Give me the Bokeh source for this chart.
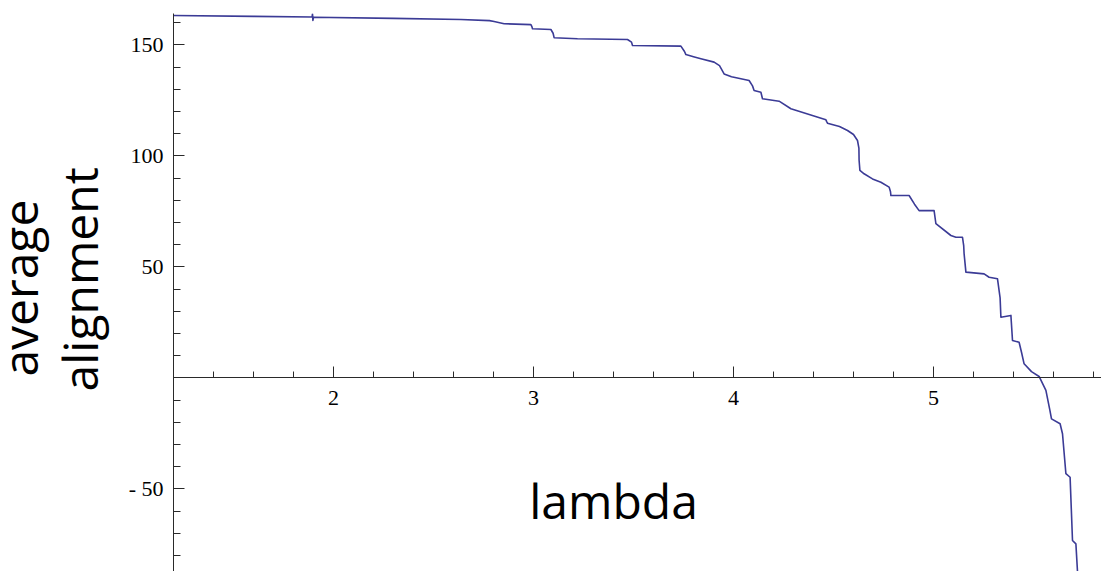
import math
from bokeh.plotting import figure
from bokeh.models import FixedTicker, Label, Range1d, ColumnDataSource
from bokeh.layouts import row
from bokeh.embed import file_html
from bokeh.resources import INLINE

# ---- data ----
lam = [1.200, 1.600, 1.893, 1.895, 1.897, 1.900, 2.300, 2.637, 2.780, 2.803, 2.853,
       2.987, 2.992, 2.995, 3.087, 3.098, 3.103, 3.220, 3.470, 3.490, 3.495, 3.737,
       3.755, 3.762, 3.800, 3.837, 3.903, 3.930, 3.953, 3.990, 4.037, 4.078, 4.095,
       4.103, 4.137, 4.145, 4.228, 4.287, 4.462, 4.466, 4.470, 4.530, 4.570, 4.600,
       4.620, 4.627, 4.628, 4.632, 4.653, 4.695, 4.737, 4.778, 4.785, 4.787, 4.878,
       4.905, 4.928, 5.003, 5.012, 5.087, 5.112, 5.145, 5.151, 5.153, 5.162, 5.253,
       5.278, 5.320, 5.333, 5.337, 5.387, 5.395, 5.428, 5.440, 5.453, 5.490, 5.528,
       5.562, 5.582, 5.590, 5.633, 5.645, 5.662, 5.683, 5.695, 5.712, 5.720]
alignment = [163.2, 162.8, 162.5, 163.9, 161.0, 162.4, 161.9, 161.4, 160.9, 160.5, 159.5,
             159.1, 158.2, 157.2, 156.9, 155.2, 153.2, 152.7, 152.4, 151.2, 149.7, 149.4,
             147.0, 145.6, 144.6, 143.7, 142.2, 140.6, 136.9, 135.6, 134.7, 133.9, 131.5,
             129.4, 128.6, 125.7, 124.6, 121.2, 116.2, 115.4, 114.7, 113.2, 111.4, 109.6,
             106.9, 103.5, 98.0, 93.4, 91.9, 89.6, 88.1, 85.9, 83.8, 82.1, 82.1,
             78.2, 75.3, 75.3, 69.4, 64.1, 63.3, 63.3, 59.5, 55.9, 47.6, 46.8,
             45.3, 44.6, 36.0, 27.3, 28.1, 16.8, 16.0, 11.5, 6.3, 2.8, 0.6,
             -5.7, -14.7, -18.5, -20.7, -25.2, -43.2, -44.8, -73.3, -74.8, -87.3]

x_major_ticks = [2, 3, 4, 5]
x_minor_ticks = [1.2, 1.4, 1.6, 1.8, 2.0, 2.2, 2.4, 2.6, 2.8, 3.0, 3.2, 3.4, 3.6,
                 3.8, 4.0, 4.2, 4.4, 4.6, 4.8, 5.0, 5.2, 5.4, 5.6, 5.8]
y_major_ticks = [-50, 0, 50, 100, 150]
y_minor_ticks = [-80, -70, -60, -50, -40, -30, -20, -10, 0, 10, 20, 30, 40, 50,
                 60, 70, 80, 90, 100, 110, 120, 130, 140, 150, 160]
y_tick_labels = {-50: "- 50", 0: "", 50: "50", 100: "100", 150: "150"}

x_title = "lambda"
y_title_lines = ["average", "alignment"]

title_font = "Open Sans"
title_size = "48px"

# ---- left strip holding the rotated y title ----
LEFT_W = 120
t = figure(width=LEFT_W, height=571, x_range=Range1d(0, LEFT_W), y_range=Range1d(0, 571),
           output_backend="svg", toolbar_location=None,
           x_axis_location=None, y_axis_location=None,
           min_border_left=0, min_border_right=0, min_border_top=0, min_border_bottom=0)
t.outline_line_color = None
t.grid.visible = False
t.add_layout(Label(x=19, y=290, text=y_title_lines[0], angle=math.pi / 2,
                   text_align="center", text_baseline="alphabetic",
                   text_font=title_font, text_font_size=title_size, text_color="black"))
t.add_layout(Label(x=79, y=299, text=y_title_lines[1], angle=math.pi / 2,
                   text_align="center", text_baseline="alphabetic",
                   text_font=title_font, text_font_size=title_size, text_color="black"))

# ---- main plot ----
p = figure(width=1101 - LEFT_W, height=571,
           x_range=Range1d(1.2, 5.84), y_range=Range1d(-87.25, 164.1),
           output_backend="svg", toolbar_location=None,
           min_border_left=173 - LEFT_W, min_border_right=0,
           min_border_top=13, min_border_bottom=0)
p.outline_line_color = None
p.grid.visible = False
p.background_fill_color = "white"
p.border_fill_color = "white"

src = ColumnDataSource(dict(lam=lam, alignment=alignment))
p.line("lam", "alignment", source=src, line_color="#3b3b96", line_width=1.6,
       line_join="round")

axis_color = "#2a2a2a"
tick_font = "Liberation Serif"

xa = p.xaxis[0]
xa.fixed_location = 0
xa.ticker = FixedTicker(ticks=x_major_ticks, minor_ticks=x_minor_ticks)
xa.axis_line_color = axis_color
xa.major_tick_line_color = axis_color
xa.minor_tick_line_color = axis_color
xa.major_tick_in = 11
xa.major_tick_out = 0
xa.minor_tick_in = 6
xa.minor_tick_out = 0
xa.major_label_text_font = tick_font
xa.major_label_text_font_size = "22px"
xa.major_label_text_color = "black"
xa.major_label_standoff = 13

ya = p.yaxis[0]
ya.ticker = FixedTicker(ticks=y_major_ticks, minor_ticks=y_minor_ticks)
ya.major_label_overrides = y_tick_labels
ya.axis_line_color = axis_color
ya.major_tick_line_color = axis_color
ya.minor_tick_line_color = axis_color
ya.major_tick_in = 11
ya.major_tick_out = 0
ya.minor_tick_in = 7
ya.minor_tick_out = 0
ya.major_label_text_font = tick_font
ya.major_label_text_font_size = "22px"
ya.major_label_text_color = "black"
ya.major_label_standoff = 10

p.add_layout(Label(x=3.40, y=-55.3, text=x_title, text_align="center",
                   text_baseline="alphabetic", text_font=title_font,
                   text_font_size=title_size, text_color="black"))

open("out.html", "w").write(file_html(row(t, p), INLINE))
